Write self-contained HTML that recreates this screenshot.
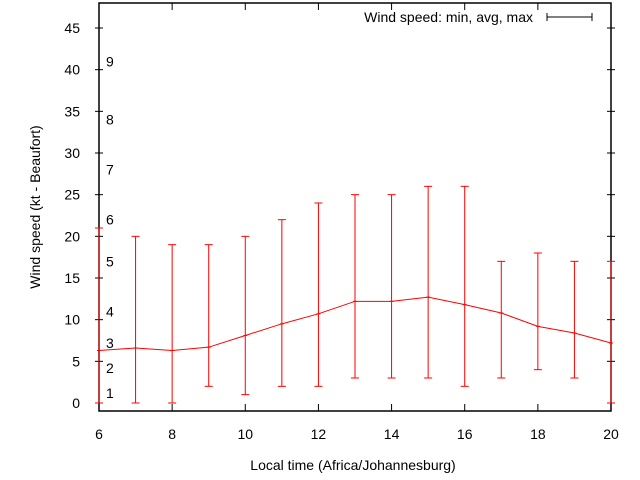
<!DOCTYPE html>
<html><head><meta charset="utf-8"><style>
body{margin:0;background:#fff}
svg{display:block;font-family:"Liberation Sans",sans-serif;font-size:14px}
</style></head><body>
<svg id="c" width="640" height="480">
<rect x="99" y="3" width="512" height="408" fill="none" stroke="#000" stroke-width="1.5"/>
<g id="axes"></g>
<g id="series"></g>
<text x="353" y="470" text-anchor="middle">Local time (Africa/Johannesburg)</text>
<text transform="translate(40,207) rotate(-90)" text-anchor="middle">Wind speed (kt - Beaufort)</text>
<g>
<text x="533" y="22" text-anchor="end">Wind speed: min, avg, max</text>
<line x1="547" y1="17" x2="592" y2="17" stroke="#000"/>
<line x1="547" y1="13" x2="547" y2="21" stroke="#000"/>
<line x1="592" y1="13" x2="592" y2="21" stroke="#000"/>
</g>
</svg>
<script>
const hours=[6,7,8,9,10,11,12,13,14,15,16,17,18,19,20];
const avgSpeed=[6.3,6.6,6.3,6.7,8.1,9.5,10.7,12.2,12.2,12.7,11.8,10.8,9.2,8.4,7.2];
const minSpeed=[0,0,0,2,1,2,2,3,3,3,2,3,4,3,0];
const maxSpeed=[21,20,19,19,20,22,24,25,25,26,26,17,18,17,17];
const xTicks=[6,8,10,12,14,16,18,20];
const yTicks=[0,5,10,15,20,25,30,35,40,45];
const beaufortLabels=["1","2","3","4","5","6","7","8","9"];
const beaufortPos=[1.2,4.2,7.2,11,17,22,28,34,41];
const NS="http://www.w3.org/2000/svg";
const X=v=>99+(v-6)*512/14;
const Y=v=>403-v*375/45;
function mk(tag,attrs,parent,txt){const e=document.createElementNS(NS,tag);for(const k in attrs)e.setAttribute(k,attrs[k]);if(txt!==undefined)e.textContent=txt;parent.appendChild(e);return e;}
const ax=document.getElementById('axes'),se=document.getElementById('series');
xTicks.forEach(t=>{
 const l=mk('line',{x1:X(t),x2:X(t),y1:411,y2:404,stroke:'#000'},ax);
 
 
 const l2=mk('line',{x1:X(t),x2:X(t),y1:3,y2:10,stroke:'#000'},ax);
 
 
 const s=mk('text',{x:X(t),y:439,'text-anchor':'middle'},ax,t);
 
 
});
yTicks.forEach(t=>{
 const l=mk('line',{x1:95,x2:103,y1:Y(t),y2:Y(t),stroke:'#000'},ax);
 
 
 const r=mk('line',{x1:607,x2:615,y1:Y(t),y2:Y(t),stroke:'#000'},ax);
 
 
 const s=mk('text',{x:80,y:Y(t)+5,'text-anchor':'end'},ax,t);
 
 
});
beaufortLabels.forEach((b,i)=>{
 const s=mk('text',{x:106,y:Y(beaufortPos[i])+5},ax,b);
 
 
});
const pts=hours.map((h,i)=>X(h)+','+Y(avgSpeed[i])).join(' ');
const pl=mk('polyline',{points:pts,fill:'none',stroke:'#f00','stroke-width':1},se);


hours.forEach((h,i)=>{
 const x=X(h);
 const g=mk('g',{stroke:'#f00','stroke-width':1},se);
 
 
 mk('line',{x1:x,x2:x,y1:Y(minSpeed[i]),y2:Y(maxSpeed[i])},g);
 mk('line',{x1:x-4,x2:x+4,y1:Y(minSpeed[i]),y2:Y(minSpeed[i])},g);
 mk('line',{x1:x-4,x2:x+4,y1:Y(maxSpeed[i]),y2:Y(maxSpeed[i])},g);
 mk('line',{x1:x-2,x2:x+2,y1:Y(avgSpeed[i]),y2:Y(avgSpeed[i])},g);
});
</script>
</body></html>
